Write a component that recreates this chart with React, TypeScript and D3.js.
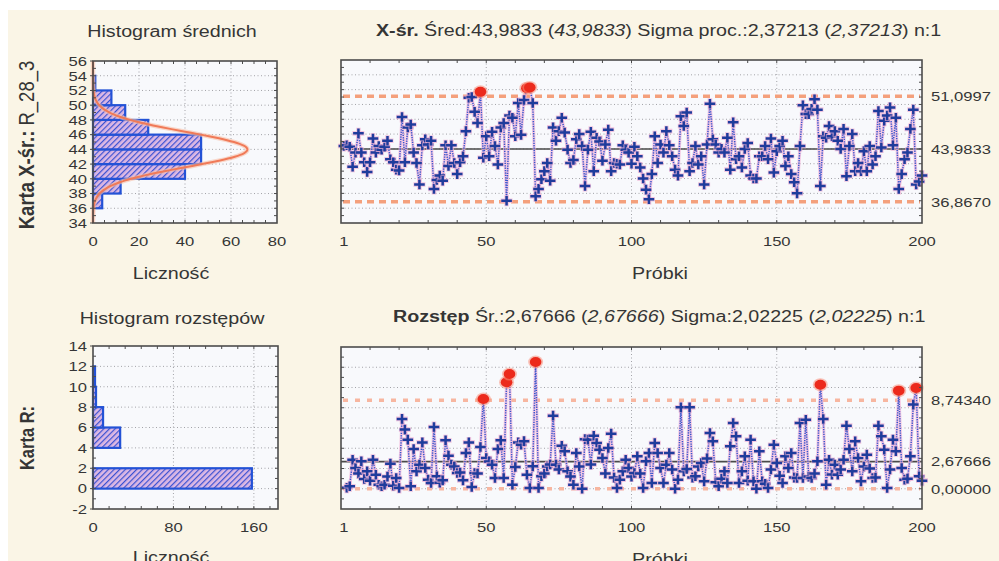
import * as d3 from 'd3'

// ---- data ----
const sampleCount = 200
const xbarCenter = 43.9833
const xbarUcl = 51.0997
const xbarLcl = 36.867
const xbarSigma = 2.37213
const rangeCenter = 2.67666
const rangeUcl = 8.7434
const rangeLcl = 0

const xbarValues = [
  44.4, 44.5, 44.3, 41.6, 43.5, 46.1, 43.5, 42.2, 40.9, 42.2,
  45.4, 43.5, 44.4, 43.9, 44.3, 45.1, 42.6, 42.2, 41.2, 41.1,
  48.3, 42.2, 46.9, 47.3, 43.5, 42.1, 39.2, 44.5, 45.3, 44.6,
  45.1, 38.6, 39.8, 40.4, 39.7, 44.5, 41.7, 44.5, 42.1, 40.6,
  42.2, 43.0, 46.4, 50.9, 51.0, 49.0, 47.5, 51.7, 42.8, 45.7,
  43.0, 46.3, 44.4, 41.9, 46.9, 47.5, 37.0, 48.5, 48.2, 45.7,
  50.2, 45.9, 50.6, 52.2, 52.3, 50.2, 37.6, 38.6, 39.9, 41.0,
  42.1, 39.7, 46.9, 45.1, 46.4, 48.2, 46.2, 43.9, 42.1, 42.5,
  45.3, 46.0, 44.4, 39.0, 43.9, 46.3, 41.0, 45.5, 45.0, 42.4,
  44.6, 46.6, 41.0, 42.1, 42.0, 41.9, 44.5, 43.9, 43.5, 42.0,
  44.3, 43.0, 41.5, 40.0, 38.5, 37.2, 40.6, 45.7, 42.1, 44.6,
  43.5, 46.4, 44.5, 43.0, 41.2, 40.4, 48.4, 47.1, 48.9, 41.0,
  42.1, 44.4, 41.9, 43.0, 39.2, 44.6, 50.1, 45.3, 44.6, 43.5,
  44.0, 43.5, 45.5, 41.2, 47.6, 42.6, 43.0, 41.5, 44.0, 44.8,
  40.4, 40.0, 40.0, 43.0, 43.0, 44.4, 42.6, 45.4, 40.8, 43.7,
  44.4, 45.1, 41.7, 43.0, 40.6, 39.5, 38.0, 44.4, 49.9, 48.7,
  48.7, 49.4, 50.7, 49.3, 39.0, 45.7, 45.5, 47.1, 45.7, 46.4,
  45.1, 44.0, 46.7, 40.3, 44.4, 46.0, 41.0, 42.1, 41.0, 43.7,
  41.0, 44.4, 41.9, 43.0, 49.1, 44.2, 47.8, 48.5, 49.6, 44.5,
  48.2, 38.6, 40.6, 42.6, 43.5, 46.7, 49.3, 39.2, 39.6, 40.4,
]

const rangeValues: (number | null)[] = [
  null, 0.1, 0.24, 2.87, 2.05, 1.5, 2.71, 0.96, 1.72, 0.8,
  2.87, 1.39, 0.4, 0.24, 0.4, 1.2, 2.48, 0.3, 1.06, 0.07,
  6.9, 5.84, 4.85, 0.24, 3.93, 1.72, 2.38, 4.58, 2.05, 0.9,
  0.57, 6.1, 1.23, 0.6, 0.83, 4.78, 3.27, 2.38, 2.2, 1.56,
  1.6, 0.83, 3.53, 4.58, 0.17, 1.56, 1.5, 4.12, 8.86, 3.04,
  2.7, 2.38, 1.06, 3.93, 4.78, 1.06, 10.51, 11.33, 0.4, 2.15,
  4.58, 4.35, 4.7, 1.39, 0.07, 2.21, 12.52, 0.07, 1.23, 1.5,
  2.2, 2.4, 7.22, 2.38, 1.9, 4.25, 3.7, 1.72, 1.2, 0.4,
  3.53, 2.2, 0.0, 4.9, 4.85, 2.4, 5.24, 4.52, 3.86, 3.04,
  1.5, 4.02, 5.44, 1.1, 0.07, 0.9, 1.72, 2.87, 2.05, 1.2,
  1.56, 3.2, 1.5, 0.07, 2.71, 3.53, 0.57, 4.52, 3.53, 2.05,
  0.57, 2.38, 3.53, 1.9, 0.0, 0.9, 8.04, 1.72, 1.95, 8.04,
  1.1, 1.23, 2.2, 2.54, 0.73, 3.0, 5.5, 4.68, 0.63, 0.24,
  1.0, 1.72, 0.57, 4.2, 6.5, 5.18, 0.57, 1.72, 3.2, 0.8,
  4.85, 0.73, 0.0, 3.7, 0.73, 0.5, 0.07, 1.9, 4.35, 2.54,
  1.29, 0.57, 3.2, 2.05, 3.53, 1.1, 1.06, 6.5, 1.06, 6.82,
  1.2, 1.06, 1.5, 2.71, 10.28, 6.89, 0.4, 2.87, 1.4, 2.38,
  1.39, 1.9, 2.87, 6.23, 3.93, 1.72, 4.68, 3.04, 0.73, 2.2,
  3.37, 2.0, 1.06, 1.1, 6.23, 5.18, 3.86, 0.07, 1.9, 4.85,
  3.7, 9.69, 2.05, 0.9, 1.0, 3.2, 8.31, 9.95, 1.23, 0.8,
]

// histograms (lower bin edge, count)
const xbarBinStarts = [36, 38, 40, 42, 44, 46, 48, 50, 52]
const xbarBinCounts = [4, 12, 40, 47, 47, 24, 14, 8, 1]
const rangeBinStarts = [0, 2, 4, 6, 8, 10]
const rangeBinCounts = [158, 0, 27, 10, 3, 2]

const xbarYTicks = [34, 36, 38, 40, 42, 44, 46, 48, 50, 52, 54, 56]
const rangeYTicks = [-2, 0, 2, 4, 6, 8, 10, 12, 14]
const xbarHistXTicks = [0, 20, 40, 60, 80]
const rangeHistXTicks = [0, 80, 160]
const sampleTicks = [1, 50, 100, 150, 200]
const sampleGrid = [50, 100, 150]

const xbarLimitLabels = [
  { v: xbarUcl, t: '51,0997' },
  { v: xbarCenter, t: '43,9833' },
  { v: xbarLcl, t: '36,8670' },
]
const rangeLimitLabels = [
  { v: rangeUcl, t: '8,74340' },
  { v: rangeCenter, t: '2,67666' },
  { v: rangeLcl, t: '0,00000' },
]

// ---- look ----
const SX = 1.23 // the reference is stretched sideways
const FONT = "'Liberation Sans', Arial, sans-serif"
const INK = '#353535'
const FRAME = '#4c4c4c'
const PLOT_BG = '#f8f9fc'
const CREAM = '#faf5e6'
const GRID = '#a3a3a8'
const BAR_STROKE = '#2352d6'
const CROSS = '#1f3c9c'

function T({ x, y, size = 13.5, anchor = 'start', weight = 400, children, rotate = 0 }: any) {
  const tf = rotate
    ? `translate(${x},${y}) scale(${SX},1) rotate(${rotate})`
    : `translate(${x},${y}) scale(${SX},1)`
  return (
    <text transform={tf} fontFamily={FONT} fontSize={size} textAnchor={anchor} fontWeight={weight} fill={INK}>
      {children}
    </text>
  )
}

function Frame({ x0, x1, y0, y1 }: any) {
  return <rect x={x0} y={y0} width={x1 - x0} height={y1 - y0} fill="none" stroke={FRAME} strokeWidth={1.6} />
}

function Histogram({ left, right, top, bottom, yDomain, xMax, yTicks, xTicks, xGrid, xMinorStep, starts, counts, binWidth, curve }: any) {
  const y = d3.scaleLinear().domain(yDomain).range([bottom, top])
  const x = d3.scaleLinear().domain([0, xMax]).range([left, right])
  const minorX = d3.range(xMinorStep, xMax, xMinorStep)
  const minorY = d3.range(yDomain[0] + 1, yDomain[1], 1)
  const curveLine = d3.line<any>().x(d => x(d.c)).y(d => y(d.v)).curve(d3.curveBasis)
  return (
    <g>
      <rect x={left} y={top} width={right - left} height={bottom - top} fill={PLOT_BG} />
      {yTicks.slice(1, -1).map((t: number) => (
        <line key={'gy' + t} x1={left} x2={right} y1={y(t)} y2={y(t)} stroke={GRID} strokeDasharray="1 2.5" />
      ))}
      {xGrid.map((t: number) => (
        <line key={'gx' + t} x1={x(t)} x2={x(t)} y1={top} y2={bottom} stroke={GRID} strokeDasharray="1 2.5" />
      ))}
      {starts.map((s: number, i: number) => counts[i] > 0 && (
        <rect key={'b' + s} x={x(0)} y={y(s + binWidth)} width={x(counts[i]) - x(0)} height={y(s) - y(s + binWidth)}
          fill="url(#hatch)" stroke={BAR_STROKE} strokeWidth={2.2} />
      ))}
      {curve && (
        <g fill="none">
          <path d={curveLine(curve) || ''} stroke="#f8c0a8" strokeWidth={4.5} opacity={0.6} />
          <path d={curveLine(curve) || ''} stroke="#f07a58" strokeWidth={2} />
        </g>
      )}
      {minorX.map((t: number) => (
        <g key={'mx' + t}>
          <line x1={x(t)} x2={x(t)} y1={top} y2={top + 3} stroke={FRAME} />
          <line x1={x(t)} x2={x(t)} y1={bottom} y2={bottom - 3} stroke={FRAME} />
        </g>
      ))}
      {minorY.map((t: number) => (
        <g key={'my' + t}>
          <line x1={left} x2={left + 3} y1={y(t)} y2={y(t)} stroke={FRAME} />
          <line x1={right} x2={right - 3} y1={y(t)} y2={y(t)} stroke={FRAME} />
        </g>
      ))}
      <Frame x0={left} x1={right} y0={top} y1={bottom} />
      {yTicks.map((t: number) => (
        <g key={'ly' + t}>
          <line x1={left - 3} x2={left} y1={y(t)} y2={y(t)} stroke={FRAME} />
          <T x={left - 6} y={y(t) + 4.8} anchor="end">{String(t)}</T>
        </g>
      ))}
      {xTicks.map((t: number) => (
        <T key={'lx' + t} x={x(t)} y={bottom + 23} anchor="middle">{String(t)}</T>
      ))}
    </g>
  )
}

function ControlChart({ top, bottom, yDomain, values, center, ucl, lcl, limitLabels, limitColor, limitDash }: any) {
  const left = 341
  const right = 922
  const x = d3.scaleLinear().domain([0, sampleCount]).range([left, right])
  const y = d3.scaleLinear().domain(yDomain).range([bottom, top])
  const pts = values.map((v: number | null, i: number) => ({ i: i + 1, v }))
  const line = d3.line<any>().defined(d => d.v != null).x(d => x(d.i)).y(d => y(d.v))
  const path = line(pts) || ''
  const minorX = d3.range(10, sampleCount, 10)
  const minorY = d3.range(Math.ceil(yDomain[0]) + 1, yDomain[1], 1)
  const gridY = d3.range(yDomain[0] + 2, yDomain[1], 2)
  const out = (v: number) => v > ucl || v < lcl
  return (
    <g>
      <rect x={left} y={top} width={right - left} height={bottom - top} fill={PLOT_BG} />
      {gridY.map((t: number) => (
        <line key={'gy' + t} x1={left} x2={right} y1={y(t)} y2={y(t)} stroke={GRID} strokeDasharray="1 2.5" />
      ))}
      {sampleGrid.map(t => (
        <line key={'gx' + t} x1={x(t)} x2={x(t)} y1={top} y2={bottom} stroke={GRID} strokeDasharray="1 2.5" />
      ))}
      {[ucl, lcl].map((v, k) => (
        <line key={'lim' + k} x1={left + 2} x2={right - 2} y1={y(v)} y2={y(v)} stroke={limitColor}
          strokeWidth={3.6} strokeDasharray={limitDash} />
      ))}
      <line x1={left} x2={right} y1={y(center)} y2={y(center)} stroke="#4a4a4a" strokeWidth={1.6} />
      <path d={path} fill="none" stroke="#f2b4d8" strokeWidth={3.2} opacity={0.7} />
      <path d={path} fill="none" stroke="#3656cc" strokeWidth={1.5} strokeDasharray="1.3 1.1" />
      {pts.filter((p: any) => p.v != null && !out(p.v)).map((p: any) => (
        <g key={'c' + p.i} transform={`translate(${x(p.i)},${y(p.v)})`}>
          <path d="M-6,0H6M0,-5.5V5.5" stroke="#f0b0d4" strokeWidth={4.6} opacity={0.7} />
          <path d="M-5.3,0H5.3M0,-4.8V4.8" stroke={CROSS} strokeWidth={2.5} />
        </g>
      ))}
      {pts.filter((p: any) => p.v != null && out(p.v)).map((p: any) => (
        <g key={'r' + p.i}>
          <ellipse cx={x(p.i)} cy={y(p.v)} rx={7.5} ry={6.5} fill="#f8907a" opacity={0.55} />
          <ellipse cx={x(p.i)} cy={y(p.v)} rx={5.8} ry={5} fill="#ec2a1c" />
        </g>
      ))}
      {minorX.map(t => (
        <g key={'mx' + t}>
          <line x1={x(t)} x2={x(t)} y1={top} y2={top + 3} stroke={FRAME} />
          <line x1={x(t)} x2={x(t)} y1={bottom} y2={bottom - 3} stroke={FRAME} />
        </g>
      ))}
      {minorY.map((t: number) => (
        <g key={'my' + t}>
          <line x1={left} x2={left + 3} y1={y(t)} y2={y(t)} stroke={FRAME} />
          <line x1={right} x2={right - 3} y1={y(t)} y2={y(t)} stroke={FRAME} />
        </g>
      ))}
      <Frame x0={left} x1={right} y0={top} y1={bottom} />
      {sampleTicks.map(t => (
        <T key={'lx' + t} x={x(t)} y={bottom + 23} anchor="middle">{String(t)}</T>
      ))}
      {limitLabels.map((l: any) => (
        <T key={l.t} x={931} y={y(l.v) + 4.8}>{l.t}</T>
      ))}
    </g>
  )
}

export default function App() {
  const curvePeak = (sampleCount * 2) / (xbarSigma * Math.sqrt(2 * Math.PI))
  const normalCurve = d3.range(34, 56.001, 0.25).map(v => ({
    v,
    c: curvePeak * Math.exp(-0.5 * ((v - xbarCenter) / xbarSigma) ** 2),
  }))

  return (
    <svg width={999} height={561} style={{ position: 'absolute', left: 0, top: 0, display: 'block' }}>
      <defs>
        <pattern id="hatch" width={4} height={4} patternUnits="userSpaceOnUse" patternTransform="rotate(45)">
          <rect width={4} height={4} fill="#dcb8e4" />
          <line x1={0} y1={0} x2={0} y2={4} stroke="#3c52d2" strokeWidth={2.4} />
        </pattern>
      </defs>
      <rect x={0} y={0} width={999} height={561} fill="#ffffff" />
      <rect x={8} y={10} width={991} height={551} fill={CREAM} />

      {/* upper row: X-bar */}
      <T x={172} y={37} size={16} anchor="middle">Histogram średnich</T>
      <Histogram left={93} right={277} top={61} bottom={223} yDomain={[34, 56]} xMax={80}
        yTicks={xbarYTicks} xTicks={xbarHistXTicks} xGrid={[20, 40, 60]} xMinorStep={5}
        starts={xbarBinStarts} counts={xbarBinCounts} binWidth={2} curve={normalCurve} />
      <T x={171} y={279} size={16} anchor="middle">Liczność</T>
      <T x={34} y={145} size={18.5} anchor="middle" rotate={-90}>
        <tspan fontWeight={700}>Karta X-śr.:</tspan> R_28_3
      </T>

      <T x={376} y={36} size={16}>
        <tspan fontWeight={700}>X-śr.</tspan> Śred:43,9833 (<tspan fontStyle="italic">43,9833</tspan>) Sigma proc.:2,37213 (<tspan fontStyle="italic">2,37213</tspan>) n:1
      </T>
      <ControlChart top={60} bottom={223} yDomain={[34, 56]} values={xbarValues}
        center={xbarCenter} ucl={xbarUcl} lcl={xbarLcl} limitLabels={xbarLimitLabels}
        limitColor="#f4a07c" limitDash="7 5" />
      <T x={660} y={279} size={16} anchor="middle">Próbki</T>

      {/* lower row: range */}
      <T x={172} y={324} size={16} anchor="middle">Histogram rozstępów</T>
      <Histogram left={93} right={278} top={346} bottom={509} yDomain={[-2, 14]} xMax={184}
        yTicks={rangeYTicks} xTicks={rangeHistXTicks} xGrid={[80, 160]} xMinorStep={16}
        starts={rangeBinStarts} counts={rangeBinCounts} binWidth={2} />
      <T x={171} y={563} size={16} anchor="middle">Liczność</T>
      <T x={34} y={438} size={16.5} anchor="middle" rotate={-90}>
        <tspan fontWeight={700}>Karta R:</tspan>
      </T>

      <T x={393} y={322} size={16}>
        <tspan fontWeight={700}>Rozstęp</tspan> Śr.:2,67666 (<tspan fontStyle="italic">2,67666</tspan>) Sigma:2,02225 (<tspan fontStyle="italic">2,02225</tspan>) n:1
      </T>
      <ControlChart top={347} bottom={509} yDomain={[-2, 14]} values={rangeValues}
        center={rangeCenter} ucl={rangeUcl} lcl={rangeLcl} limitLabels={rangeLimitLabels}
        limitColor="#f7b6a0" limitDash="5 7" />
      <T x={660} y={565} size={16} anchor="middle">Próbki</T>
    </svg>
  )
}
